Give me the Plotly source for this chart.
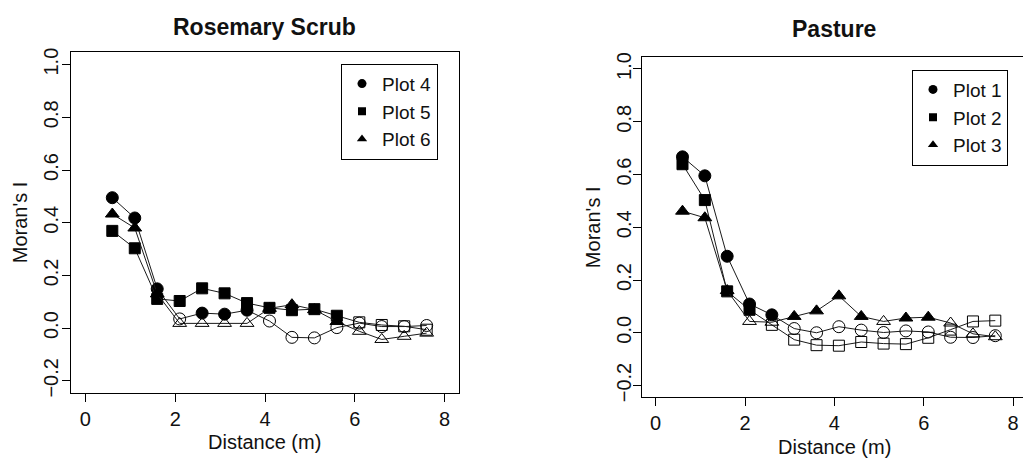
import plotly.graph_objects as go

# Lag distances (m) shared by all correlograms
distance = [0.6, 1.1, 1.6, 2.1, 2.6, 3.1, 3.6, 4.1, 4.6, 5.1, 5.6, 6.1, 6.6, 7.1, 7.6]

# Rosemary scrub: Moran's I per lag, and whether each value is significant (1 = filled symbol)
plot4 = [0.495, 0.418, 0.149, 0.035, 0.057, 0.053, 0.068, 0.027, -0.035, -0.037, 0.002, 0.019, 0.006, 0.006, 0.010]
plot4_sig = [1, 1, 1, 0, 1, 1, 1, 0, 0, 0, 0, 0, 0, 0, 0]
plot5 = [0.369, 0.303, 0.111, 0.103, 0.151, 0.132, 0.095, 0.077, 0.068, 0.072, 0.047, 0.022, 0.012, 0.007, -0.006]
plot5_sig = [1, 1, 1, 1, 1, 1, 1, 1, 1, 1, 1, 0, 0, 0, 0]
plot6 = [0.433, 0.380, 0.130, 0.018, 0.018, 0.018, 0.018, 0.075, 0.089, 0.070, 0.025, -0.012, -0.043, -0.031, -0.019]
plot6_sig = [1, 1, 1, 0, 0, 0, 0, 1, 1, 1, 1, 0, 0, 0, 0]

# Pasture
plot1 = [0.667, 0.595, 0.290, 0.109, 0.068, 0.016, 0.000, 0.023, 0.010, 0.001, 0.007, 0.003, -0.017, -0.018, -0.011]
plot1_sig = [1, 1, 1, 1, 1, 0, 0, 0, 0, 0, 0, 0, 0, 0, 0]
plot2 = [0.639, 0.503, 0.157, 0.087, 0.030, -0.026, -0.047, -0.049, -0.035, -0.041, -0.043, -0.019, 0.012, 0.043, 0.046]
plot2_sig = [1, 1, 1, 1, 0, 0, 0, 0, 0, 0, 0, 0, 0, 0, 0]
plot3 = [0.461, 0.436, 0.160, 0.043, 0.040, 0.062, 0.083, 0.140, 0.062, 0.043, 0.056, 0.059, 0.037, -0.004, -0.015]
plot3_sig = [1, 1, 1, 0, 0, 1, 1, 1, 1, 0, 1, 1, 0, 0, 0]

panel_titles = ["Rosemary Scrub", "Pasture"]
x_title = "Distance (m)"
y_title = "Moran's I"
x_ticks = [0, 2, 4, 6, 8]
y_ticks = [-0.2, 0.0, 0.2, 0.4, 0.6, 0.8, 1.0]

FONT = "Liberation Sans, Arial, Helvetica, sans-serif"
W, H = 1023, 466

series = [
    # (panel, name, values, significance, symbol)
    (1, "Plot 4", plot4, plot4_sig, "circle"),
    (1, "Plot 5", plot5, plot5_sig, "square"),
    (1, "Plot 6", plot6, plot6_sig, "triangle-up"),
    (2, "Plot 1", plot1, plot1_sig, "circle"),
    (2, "Plot 2", plot2, plot2_sig, "square"),
    (2, "Plot 3", plot3, plot3_sig, "triangle-up"),
]
sizes = {"circle": 12, "square": 11, "triangle-up": 12}

fig = go.Figure()
for panel, name, vals, sig, sym in series:
    ax = "" if panel == 1 else "2"
    fig.add_trace(go.Scatter(
        x=distance, y=vals, mode="lines+markers",
        xaxis="x" + ax, yaxis="y" + ax, showlegend=False,
        line=dict(color="#1a1a1a", width=1),
        marker=dict(
            symbol=[sym if s else sym + "-open" for s in sig],
            size=sizes[sym], color="black",
            line=dict(color="black", width=1),
        ),
    ))
    # legend key (filled symbol only)
    fig.add_trace(go.Scatter(
        x=[None], y=[None], mode="markers", name=name,
        xaxis="x" + ax, yaxis="y" + ax,
        legend="legend" if panel == 1 else "legend2",
        marker=dict(symbol=sym, size=9 if sym != "square" else 8, color="black"),
    ))

axis_common = dict(
    showline=True, linecolor="black", linewidth=1, mirror=True,
    ticks="outside", ticklen=8, tickwidth=1, tickcolor="black",
    showgrid=False, zeroline=False,
    tickfont=dict(family=FONT, size=20, color="#111"),
)

# panel boxes in pixel space
L = dict(x0=71, x1=459, top=48, bottom=397)
R = dict(x0=642, x1=1023, top=53, bottom=401)

def dom_x(p):
    return [p["x0"] / W, p["x1"] / W]

def dom_y(p):
    return [1 - p["bottom"] / H, 1 - p["top"] / H]

fig.update_layout(
    width=W, height=H,
    margin=dict(l=0, r=0, t=0, b=0),
    paper_bgcolor="white", plot_bgcolor="white",
    font=dict(family=FONT, color="#111"),
    xaxis=dict(axis_common, domain=dom_x(L), range=[-0.32, 8.32], tickvals=x_ticks, anchor="y"),
    yaxis=dict(axis_common, domain=dom_y(L), range=[-0.248, 1.048], tickvals=y_ticks,
               tickformat=".1f", tickangle=-90, anchor="x", ticklabelstandoff=-4),
    xaxis2=dict(axis_common, domain=dom_x(R), range=[-0.306, 8.22], tickvals=x_ticks, anchor="y2"),
    yaxis2=dict(axis_common, domain=dom_y(R), range=[-0.245, 1.046], tickvals=y_ticks,
                tickformat=".1f", tickangle=-90, anchor="x2", mirror=False, ticklabelstandoff=-6),
    legend=dict(
        x=341 / W, y=1 - 60 / H, xanchor="left", yanchor="top",
        bgcolor="white", bordercolor="black", borderwidth=1,
        font=dict(family=FONT, size=19, color="#111"),
    ),
    legend2=dict(
        x=912 / W, y=1 - 66 / H, xanchor="left", yanchor="top",
        bgcolor="white", bordercolor="black", borderwidth=1,
        font=dict(family=FONT, size=19, color="#111"),
    ),
)

annotations = [
    dict(text="<b>%s</b>" % panel_titles[0], x=264 / W, y=1 - 22 / H),
    dict(text="<b>%s</b>" % panel_titles[1], x=834 / W, y=1 - 25 / H),
    dict(text=x_title, x=264 / W, y=1 - 447 / H, size=20),
    dict(text=x_title, x=834 / W, y=1 - 452 / H, size=20),
    dict(text=y_title, x=20 / W, y=1 - 222 / H, size=20, angle=-90),
    dict(text=y_title, x=593 / W, y=1 - 227 / H, size=20, angle=-90),
]
for a in annotations:
    fig.add_annotation(
        text=a["text"], x=a["x"], y=a["y"], xref="paper", yref="paper",
        xanchor="center", yanchor="middle", showarrow=False,
        textangle=a.get("angle", 0),
        font=dict(family=FONT, size=a.get("size", 23), color="#111"),
    )

fig.write_html("out.html")
